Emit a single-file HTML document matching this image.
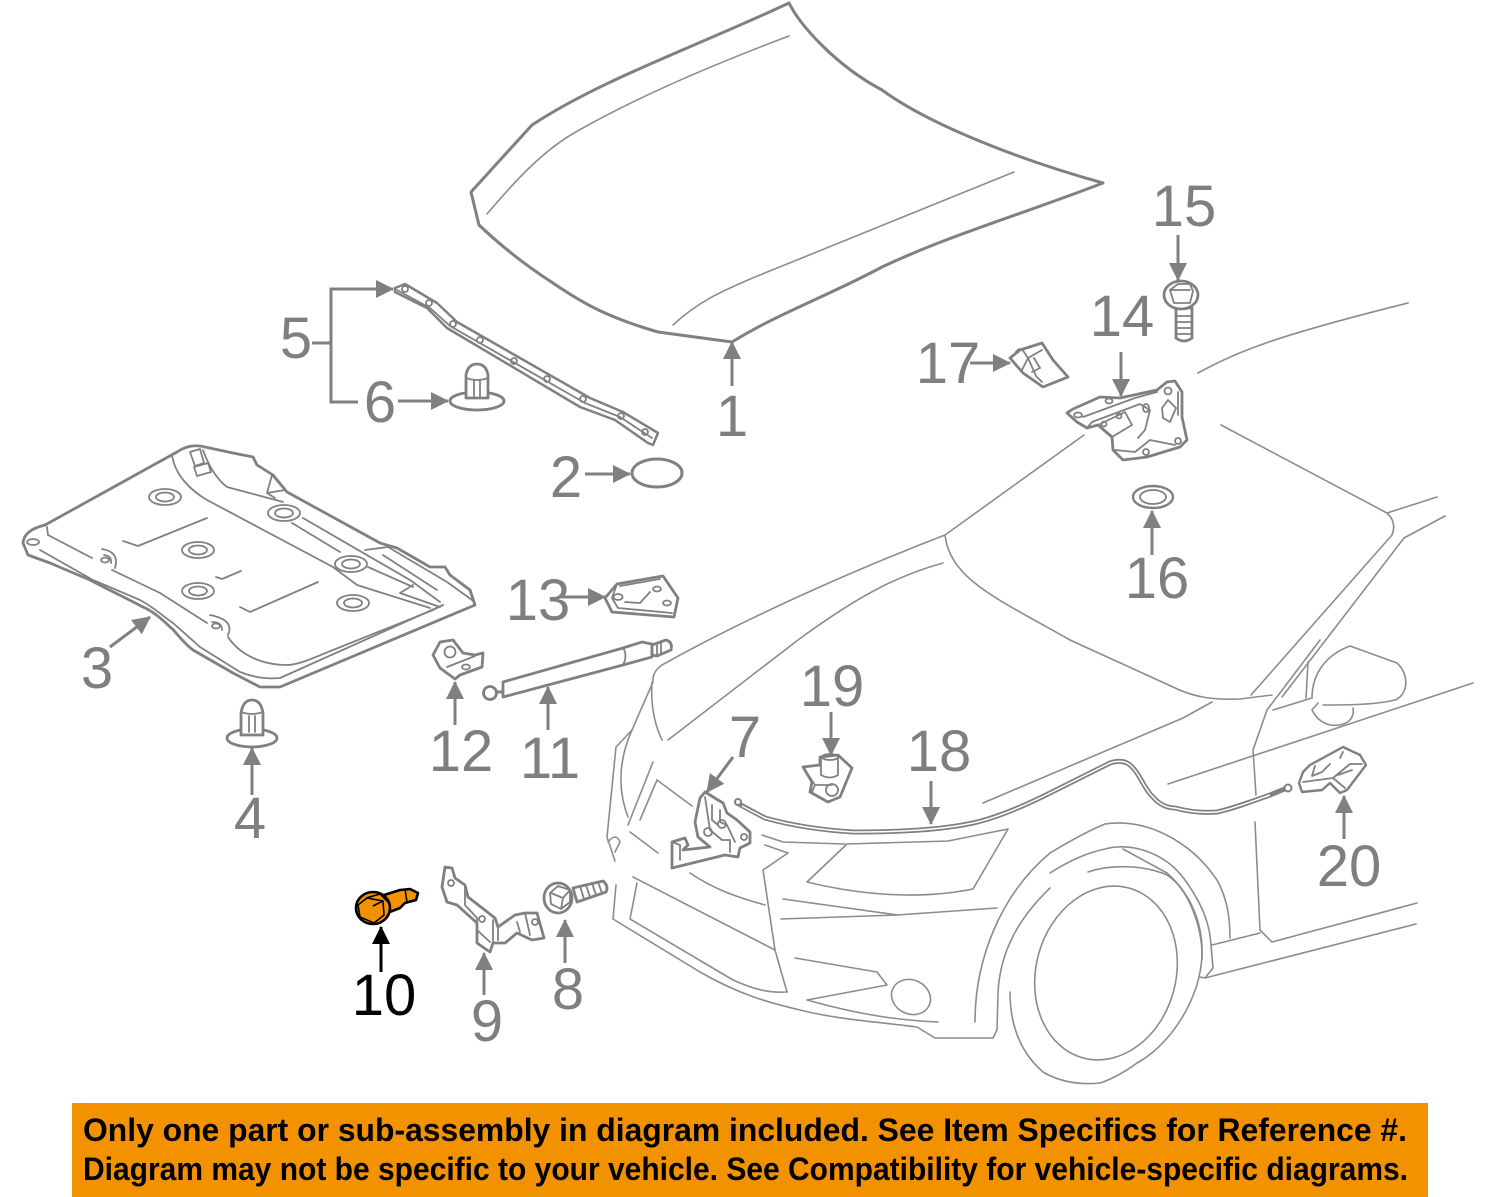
<!DOCTYPE html>
<html><head><meta charset="utf-8"><style>
html,body{margin:0;padding:0;background:#fff}
svg{display:block}
.c{fill:none;stroke:#8c8c8c;stroke-width:1.6;stroke-linejoin:round;stroke-linecap:round}
.p{fill:#fff;stroke:#808080;stroke-width:2.8;stroke-linejoin:round;stroke-linecap:round}
.t{fill:none;stroke:#808080;stroke-width:1.8;stroke-linejoin:round;stroke-linecap:round}
.a{fill:none;stroke:#808080;stroke-width:3;marker-end:url(#h)}
.l{font-family:"Liberation Sans",sans-serif;font-size:58px;fill:#7f7f7f;text-anchor:middle}
.b{font-family:"Liberation Sans",sans-serif;font-weight:bold;font-size:32px;fill:#000}
</style></head><body>
<svg width="1500" height="1197" viewBox="0 0 1500 1197" xmlns="http://www.w3.org/2000/svg">
<defs>
<marker id="h" markerUnits="userSpaceOnUse" markerWidth="18" markerHeight="18" viewBox="0 0 18 18" refX="17" refY="9" orient="auto"><path d="M0,0L18,9L0,18Z" fill="#808080"/></marker>
<marker id="k" markerUnits="userSpaceOnUse" markerWidth="18" markerHeight="18" viewBox="0 0 18 18" refX="17" refY="9" orient="auto"><path d="M0,0L18,9L0,18Z" fill="#000"/></marker>
</defs>
<rect width="1500" height="1197" fill="#fff"/>

<!-- car -->
<g class="c">
<path d="M1198,373C1240,350 1280,335 1408,303"/>
<path d="M1084,435L945,535"/>
<path d="M1221,425L1387,513L1437,497"/>
<path d="M1387,513Q1397,522 1392,535L1251,695"/>
<path d="M1404,538L1445,516M1404,538L1282,697"/>
<path d="M945,535C880,560 760,610 662,665Q652,672 653,682L632,730L616,747L607,837L615,861"/>
<path d="M943,563C900,575 862,593 798,640L668,740"/>
<path d="M945,535C950,580 1000,600 1070,640L1173,687C1195,698 1215,700 1240,699L1272,695"/>
<path d="M652,682Q650,715 662,740M632,730Q612,775 628,817M653,762L628,825M630,832L658,853M657,780L640,820M657,780L692,806"/>
<path d="M608,842Q616,832 620,842L615,852"/>
<path d="M616,885L613,919L700,972C740,995 770,1003 800,1010C840,1020 880,1022 917,1027L935,1038L993,1038L997,1030L998,993C1000,950 1020,917 1050,888"/>
<path d="M690,873C715,890 740,898 765,905M763,870L775,950L787,992M763,870L788,853L765,845M762,835L783,842L845,844"/>
<path d="M633,877L775,950M637,883L630,919L733,980C755,990 770,993 787,992"/>
<path d="M807,882L847,844L948,841L1008,829L973,889C920,900 860,895 807,882Z"/>
<path d="M783,899L898,915M781,919L897,915L997,908"/>
<path d="M795,958L877,972L887,985L807,1000C850,1012 890,1020 938,1022"/>
<ellipse cx="911" cy="997" rx="20" ry="17" transform="rotate(25 911 997)"/>
<path d="M975,1022C975,960 1000,895 1050,853C1075,838 1090,830 1105,824C1145,818 1190,840 1217,880C1228,900 1230,920 1230,938"/>
<path d="M1050,873C1070,860 1090,852 1105,849C1130,842 1165,852 1185,880C1203,905 1210,925 1211,945L1213,968L1205,978L1200,977"/>
<path d="M1123,849L1167,873C1192,895 1203,925 1202,955C1200,1000 1170,1045 1137,1063C1125,1072 1110,1080 1100,1083C1080,1085 1060,1082 1043,1072C1020,1052 1010,1025 1010,992"/>
<ellipse cx="1106" cy="973" rx="70" ry="88" transform="rotate(15 1106 973)"/>
<path d="M1088,872C1110,864 1145,865 1167,875C1190,890 1203,930 1202,960"/>
<path d="M1212,945L1260,933M1205,978L1416,924M1255,822L1260,930L1272,942L1417,903"/>
<path d="M1320,640L1267,710L1253,750L1256,795"/>
<path d="M1168,784L1473,683"/>
<path d="M1312,698C1312,675 1325,655 1350,646L1397,663C1410,675 1408,695 1395,700C1375,705 1345,705 1323,705"/>
<path d="M1318,703L1312,710Q1318,722 1330,725C1345,727 1355,720 1353,708"/>
<path d="M1308,662L1306,698M1273,710L1312,698"/>
<path d="M983,803L1183,718L1212,702"/>
</g>

<!-- hood 1 -->
<path class="t" style="stroke-width:3" d="M789,3C800,25 835,65 882,90C930,125 1020,160 1103,183C1020,215 950,235 882,267C830,295 775,315 732,342L658,332C610,318 585,305 553,283C525,265 500,245 479,225L471,192L532,125C600,80 700,45 789,3Z" fill="none"/>
<path class="c" d="M487,214C520,175 545,150 574,133C640,95 720,62 789,36"/>
<path class="c" d="M673,325C700,300 725,290 755,277L1014,172"/>

<!-- part 5 strip -->
<path class="p" style="stroke-width:2.5" d="M395,288L405,284L437,303L457,322L590,398L623,412L658,433L653,445L648,443L615,420L580,407L447,328L427,308L395,292Z"/>
<path class="t" d="M397,290L430,308L450,326L585,403L620,417L652,438"/>
<g class="t" fill="none"><circle cx="405" cy="289" r="3"/><circle cx="429" cy="303" r="3"/><circle cx="453" cy="324" r="3"/><circle cx="480" cy="340" r="3"/><circle cx="514" cy="361" r="3"/><circle cx="547" cy="379" r="3"/><circle cx="583" cy="399" r="3"/><circle cx="621" cy="416" r="3"/><circle cx="645" cy="432" r="3"/></g>
<path class="a" style="marker-end:none" d="M358,402H331V289H360M312,343H331"/>
<path class="a" d="M360,289H393"/>

<!-- part 6 -->
<ellipse class="p" cx="477" cy="401" rx="27" ry="9"/>
<path class="p" d="M466,398V375Q468,364 477,364Q486,364 488,375V398Z"/>
<path class="t" d="M466,378Q477,382 488,378M474,381V396M480,381V396"/>
<!-- part 2 -->
<ellipse class="t" style="stroke-width:3" cx="657" cy="473" rx="25" ry="14"/>

<!-- part 3 -->
<path class="p" d="M23,543Q24,530 45,525L177,452Q190,443 205,447L233,453L253,457L257,465L273,475L287,492L380,543L397,548L430,567L445,567L450,575L470,590L475,605L280,687L260,687L233,673L193,650C180,640 175,630 170,627C160,617 150,610 143,607C120,595 105,588 90,580L50,563L28,555Z"/>
<g class="t">
<path d="M40,550L93,580L140,600C155,608 165,618 173,623L200,647L240,672Q260,680 280,678L443,605"/>
<path d="M47,527L48,535L92,558M112,570L160,593L207,623M228,637C240,655 262,665 287,665C300,665 320,655 333,650L433,610L443,605"/>
<path d="M172,455C175,475 190,490 207,500L333,567L357,585L430,608"/>
<path d="M203,450C210,470 220,482 227,487L283,502M303,518L410,580L440,602M292,523L340,552M368,567L413,587"/>
<path d="M267,493L272,475L285,490L267,493M267,493L275,498"/>
<path d="M365,550L388,547L447,582L472,600M383,555L437,590M400,593L413,585M400,593L440,607"/>
<path d="M190,452L200,449L204,463L195,466ZM194,467L208,463L211,472L197,476Z"/>
<ellipse cx="165" cy="497" rx="16" ry="8"/><ellipse cx="165" cy="497" rx="9" ry="4.5"/>
<ellipse cx="284" cy="513" rx="16" ry="8"/><ellipse cx="284" cy="513" rx="9" ry="4.5"/>
<ellipse cx="198" cy="550" rx="16" ry="8"/><ellipse cx="198" cy="550" rx="9" ry="4.5"/>
<ellipse cx="351" cy="564" rx="16" ry="8"/><ellipse cx="351" cy="564" rx="9" ry="4.5"/>
<ellipse cx="198" cy="591" rx="16" ry="8"/><ellipse cx="198" cy="591" rx="9" ry="4.5"/>
<ellipse cx="353" cy="603" rx="16" ry="8"/><ellipse cx="353" cy="603" rx="9" ry="4.5"/>
<path d="M123,541L138,546L207,518M216,577L222,579L241,571M240,607L250,612L318,582"/>
<path d="M102,549Q120,552 115,568M104,555Q112,556 111,563"/><ellipse cx="105" cy="560" rx="4" ry="2.5"/>
<path d="M210,615Q235,620 228,635M212,622Q222,622 222,630"/><ellipse cx="216" cy="626" rx="4" ry="2.5"/>
<ellipse cx="33" cy="542" rx="6" ry="3"/>
</g>

<!-- part 4 -->
<ellipse class="p" cx="252" cy="738" rx="25" ry="9"/>
<path class="p" d="M241,735V713Q243,700 252,700Q261,700 263,713V735Z"/>
<path class="t" d="M241,712Q252,716 263,712M249,716V732M255,716V732"/>

<!-- part 12 -->
<path class="p" d="M433,655L440,642L453,640L463,653L475,655L483,653L482,667L460,675L455,679L440,668Z"/>
<g class="t"><circle cx="450" cy="652" r="5.5"/><ellipse cx="466" cy="667" rx="4" ry="2.5"/><path d="M447,667L475,656"/></g>

<!-- part 11 -->
<path class="t" style="stroke-width:3" d="M496,692H505"/>
<path class="p" d="M503,682L623,648L642,642L652,644L652,657L623,665L503,697Z"/>
<path class="t" d="M623,648Q628,655 623,665"/>
<circle class="p" cx="490" cy="693" r="6.5"/>
<path class="p" d="M652,645L666,640Q673,642 671,650L657,656L652,655Z"/>
<path class="t" d="M657,644V655M661,642V654"/>

<!-- part 13 -->
<path class="p" d="M605,598L617,584L663,576L678,598L674,617L612,612Z"/>
<g class="t"><path d="M617,584L612,598L618,608L672,613M620,586L660,579"/><ellipse cx="618" cy="597" rx="4.5" ry="3"/><ellipse cx="657" cy="589" rx="4" ry="2.5"/><ellipse cx="667" cy="603" rx="4" ry="2.5"/><path d="M625,602L640,603L650,592"/></g>

<!-- part 17 -->
<path class="p" d="M1010,358L1020,350L1042,343L1053,360L1068,377L1043,387L1023,373Z"/>
<path class="t" d="M1016,352Q1020,346 1024,352L1028,358L1022,370M1028,358L1042,350M1028,358L1036,376L1042,382M1034,358L1040,368L1032,372"/>

<!-- part 14 -->
<path class="p" d="M1067,413L1073,409L1100,397L1120,398L1157,390L1167,382L1175,381L1182,392L1182,417L1187,440L1180,447L1147,457L1123,460L1113,450L1112,437L1098,425L1087,428L1077,422Z"/>
<g class="t"><path d="M1083,417L1135,398L1157,392M1087,428L1092,422L1140,404L1150,410L1145,430L1138,438M1098,425L1125,412L1132,425L1112,437M1162,408L1168,400L1176,408L1170,422L1163,418ZM1115,450L1135,452L1150,440L1175,445M1178,392V415"/><ellipse cx="1078" cy="415" rx="4" ry="2.5"/><ellipse cx="1109" cy="401" rx="3.5" ry="2.5"/><ellipse cx="1146" cy="408" rx="3" ry="4"/><circle cx="1168" cy="391" r="3.5"/><circle cx="1104" cy="424" r="2.5"/><circle cx="1119" cy="416" r="2.5"/><circle cx="1178" cy="441" r="3"/><circle cx="1146" cy="452" r="3"/></g>

<!-- part 15 -->
<path class="p" d="M1176,308H1192V338Q1184,344 1176,338Z"/>
<path class="t" d="M1176,316H1192M1176,322H1192M1176,328H1192M1176,334H1192"/>
<ellipse class="p" cx="1181" cy="295" rx="17" ry="14"/>
<path class="t" d="M1170,290L1178,284H1190L1193,291L1190,303H1174L1170,290M1170,290H1190"/>

<!-- part 16 -->
<ellipse class="t" style="stroke-width:2.4" cx="1153" cy="497" rx="20" ry="11"/>
<ellipse class="t" cx="1153" cy="497" rx="13" ry="7"/>

<!-- part 19 -->
<path class="p" d="M803,767L820,765L820,757L838,755L852,768L840,797L828,802L810,792L812,782Z"/>
<g class="t"><path d="M821,757V775Q830,780 838,775V756M803,767L815,785H832M815,785L812,792"/><ellipse cx="830" cy="757" rx="8" ry="3"/><circle cx="832" cy="790" r="6"/></g>

<!-- part 7 -->
<path class="p" d="M705,792L723,803L727,813L737,820L750,832L750,843L740,848L738,857L725,855L672,868L672,842L685,838L688,845L683,850L710,847L698,837L695,822L700,798Z"/>
<g class="t"><path d="M705,797L710,830L722,840L730,840L730,852M712,805V820L718,825M720,810V822L727,825L735,842M672,842L680,845V860"/><circle cx="722" cy="824" r="4"/><circle cx="708" cy="832" r="4"/><circle cx="744" cy="837" r="3"/></g>

<!-- part 9 -->
<path class="p" d="M445,867L452,868L455,878L465,885L468,897L495,918L498,927L515,915L525,913L537,913L544,938L532,940L517,933L505,943L493,943L490,952L477,943L477,923L457,905L447,902L442,887Z"/>
<g class="t"><path d="M465,885V905L477,918V925M477,930L490,942M493,920V942M498,927V940M525,913L530,935M517,922L520,932"/><circle cx="451" cy="883" r="3"/><circle cx="482" cy="919" r="3"/><circle cx="535" cy="922" r="3"/></g>

<!-- part 8 -->
<path class="p" d="M573,888L603,881Q609,886 606,892L577,902Z"/>
<path class="t" d="M580,886L584,899M586,885L590,897M592,883L596,895M598,882L602,893"/>
<ellipse class="p" cx="558" cy="898" rx="14" ry="15"/>
<path class="t" d="M550,893L558,886L570,890L570,902L561,909L551,904ZM551,893L563,898L570,890M563,898L561,909"/>

<!-- part 10 orange -->
<g stroke="#000" stroke-width="2.6" stroke-linejoin="round" fill="#f39200">
<path d="M384,895L400,890L410,889L418,893L416,900L405,903L400,908L387,913Z"/>
<path fill="none" stroke-width="1.5" d="M405,889L407,902"/>
<ellipse cx="373" cy="908" rx="17" ry="16"/>
<path stroke-width="1.6" d="M358,905L367,898L383,901L384,915L374,923L360,917Z"/>
<path fill="none" stroke-width="1.6" d="M366,898L380,894L388,902M373,906L383,901"/>
</g>

<!-- arrows -->
<g>
<path class="a" d="M732,386V342"/>
<path class="a" d="M585,474H630"/>
<path class="a" d="M110,647L150,617"/>
<path class="a" d="M252,795V748"/>
<path class="a" d="M398,401H448"/>
<path class="a" d="M733,757L707,792"/>
<path class="a" d="M565,963V920"/>
<path class="a" d="M484,995V953"/>
<path d="M381,972V927" fill="none" stroke="#000" stroke-width="3" marker-end="url(#k)"/>
<path class="a" d="M548,730V687"/>
<path class="a" d="M455,725V682"/>
<path class="a" d="M562,597H605"/>
<path class="a" d="M1121,352V396"/>
<path class="a" d="M1178,235V280"/>
<path class="a" d="M1152,555V511"/>
<path class="a" d="M970,363H1010"/>
<path class="a" d="M931,781V824"/>
<path class="a" d="M831,712V755"/>
<path class="a" d="M1344,839V796"/>
</g>

<!-- cable 18 -->
<path d="M737,803L765,818C790,825 820,830 853,832C900,832 940,830 973,823C1000,817 1030,803 1050,793L1110,763Q1125,758 1133,768C1140,775 1145,790 1153,797C1160,805 1168,808 1175,808C1190,812 1205,813 1217,812C1235,808 1250,802 1270,795L1287,788" fill="none" stroke="#808080" stroke-width="5" stroke-linecap="round"/>
<path d="M742,806L765,818C790,825 820,830 853,832C900,832 940,830 973,823C1000,817 1030,803 1050,793L1110,763Q1125,758 1133,768C1140,775 1145,790 1153,797C1160,805 1168,808 1175,808C1190,812 1205,813 1217,812C1235,808 1250,802 1270,795" fill="none" stroke="#fff" stroke-width="1.5"/>
<circle class="p" style="stroke-width:2" cx="738" cy="802" r="3"/>
<circle class="p" style="stroke-width:2" cx="1288" cy="788" r="3.5"/>

<!-- part 20 -->
<path class="p" style="stroke-width:2.4" d="M1299,783L1303,772L1310,765L1343,747L1360,755L1366,765L1347,790L1340,793L1330,783L1322,790L1302,792Z"/>
<path class="t" d="M1303,782L1333,778L1350,764L1362,764M1315,766L1312,776L1322,772L1330,764M1333,778L1345,788M1343,752L1340,758M1338,775L1352,770"/>

<!-- labels -->
<text class="l" x="732" y="436">1</text>
<text class="l" x="566" y="497">2</text>
<text class="l" x="97" y="688">3</text>
<text class="l" x="250" y="838">4</text>
<text class="l" x="296" y="358">5</text>
<text class="l" x="380" y="422">6</text>
<text class="l" x="745" y="757">7</text>
<text class="l" x="568" y="1009">8</text>
<text class="l" x="487" y="1041">9</text>
<text class="l" x="384" y="1015" style="fill:#000">10</text>
<text class="l" x="550" y="778">11</text>
<text class="l" x="461" y="771">12</text>
<text class="l" x="538" y="620">13</text>
<text class="l" x="1122" y="336">14</text>
<text class="l" x="1184" y="226">15</text>
<text class="l" x="1157" y="598">16</text>
<text class="l" x="948" y="383">17</text>
<text class="l" x="939" y="771">18</text>
<text class="l" x="832" y="706">19</text>
<text class="l" x="1349" y="886">20</text>

<!-- banner -->
<rect x="72" y="1103" width="1356" height="94" fill="#f39200"/>
<text class="b" x="83" y="1141" textLength="1324" lengthAdjust="spacingAndGlyphs">Only one part or sub-assembly in diagram included. See Item Specifics for Reference #.</text>
<text class="b" x="83" y="1180" textLength="1325" lengthAdjust="spacingAndGlyphs">Diagram may not be specific to your vehicle. See Compatibility for vehicle-specific diagrams.</text>
</svg>
</body></html>
